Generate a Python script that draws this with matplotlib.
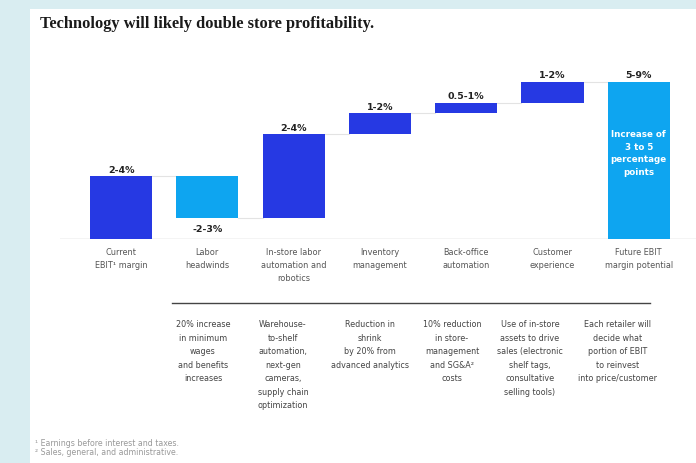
import numpy as np
import matplotlib
matplotlib.use("Agg")
import matplotlib.pyplot as plt
from matplotlib.patches import Rectangle
from matplotlib.lines import Line2D

# waterfall steps (percentage points of EBIT margin, midpoint of each range)
categories = ["Current\nEBIT\u00b9 margin", "Labor\nheadwinds", "In-store labor\nautomation and\nrobotics",
              "Inventory\nmanagement", "Back-office\nautomation", "Customer\nexperience",
              "Future EBIT\nmargin potential"]
steps = [3.0, -2.0, 4.0, 1.0, 0.5, 1.0]
value_labels = ["2-4%", "-2-3%", "2-4%", "1-2%", "0.5-1%", "1-2%", "5-9%"]
drivers = ["20% increase\nin minimum\nwages\nand benefits\nincreases",
           "Warehouse-\nto-shelf\nautomation,\nnext-gen\ncameras,\nsupply chain\noptimization",
           "Reduction in\nshrink\nby 20% from\nadvanced analytics",
           "10% reduction\nin store-\nmanagement\nand SG&A\u00b2\ncosts",
           "Use of in-store\nassets to drive\nsales (electronic\nshelf tags,\nconsultative\nselling tools)",
           "Each retailer will\ndecide what\nportion of EBIT\nto reinvest\ninto price/customer"]
driver_x = [203, 283, 370, 452, 530, 618]
footnotes = ["\u00b9 Earnings before interest and taxes.", "\u00b2 Sales, general, and administrative."]

DARK = "#2639e3"
LIGHT = "#0ea5f0"
W, H = 696, 464

fig = plt.figure(figsize=(W / 100, H / 100), dpi=100)
fig.patch.set_facecolor("#d9edf1")
# white panel
fig.patches.append(Rectangle((30 / W, 0), 1, 1 - 10 / H, transform=fig.transFigure,
                             facecolor="white", edgecolor="none", zorder=-1))

def fx(px):
    return px / W

def fy(py):
    return 1 - py / H

# axes: baseline at y=240px, 21px per point
ax = fig.add_axes([fx(60), fy(240), fx(696) - fx(60), (240 - 51) / H])
ax.set_zorder(2)
ax.set_xlim(-0.707, 6.663)
ax.set_ylim(0, 9)
ax.axis("off")

total = sum(steps)
bottoms, heights, colors = [], [], []
level = 0.0
for i, s in enumerate(steps):
    if i == 0:
        bottoms.append(0.0); heights.append(s); colors.append(DARK)
    elif s < 0:
        bottoms.append(level + s); heights.append(-s); colors.append(LIGHT)
    else:
        bottoms.append(level); heights.append(s); colors.append(DARK)
    level += s
bottoms.append(0.0); heights.append(total); colors.append(LIGHT)

x = np.arange(len(categories))
bw = 0.72
ax.bar(x, heights, bw, bottom=bottoms, color=colors, zorder=3)

# connectors between bars
level = 0.0
for i, s in enumerate(steps):
    level += s
    ax.plot([x[i] + bw / 2, x[i + 1] - bw / 2], [level, level], color="#e3e3e3", lw=0.8, zorder=1)
ax.axhline(0, color="#c8c8c8", lw=1.0, zorder=2)

# value labels
for i, lab in enumerate(value_labels):
    if i < len(steps) and steps[i] < 0:
        ax.annotate(lab, (x[i], bottoms[i]), xytext=(0, -7.5), textcoords="offset points",
                    ha="center", va="center", fontsize=6.8, fontweight="bold", color="#222222")
    else:
        ax.annotate(lab, (x[i], bottoms[i] + heights[i]), xytext=(0, 5), textcoords="offset points",
                    ha="center", va="center", fontsize=6.8, fontweight="bold", color="#222222")

ax.text(x[-1], total - 71 / 21, "Increase of\n3 to 5\npercentage\npoints", ha="center", va="center",
        fontsize=6.3, fontweight="bold", color="white", linespacing=1.55, zorder=4)

# category labels under the baseline
for i, c in enumerate(categories):
    ax.text(x[i], -8 / 21, c, ha="center", va="top", fontsize=5.9, color="#555555",
            linespacing=1.6, clip_on=False)

# divider and driver descriptions
fig.add_artist(Line2D([fx(172), fx(650)], [fy(304), fy(304)], color="#444444", lw=1.0))
for dx, d in zip(driver_x, drivers):
    fig.text(fx(dx), fy(320), d, ha="center", va="top", fontsize=5.8, color="#444444",
             linespacing=1.65)

fig.text(fx(40), fy(24), "Technology will likely double store profitability.", ha="left", va="center",
         fontsize=11.8, fontweight="bold", family="Liberation Serif", color="#1a1a1a")

for k, f in enumerate(footnotes):
    fig.text(fx(35), fy(444 + 8.5 * k), f, ha="left", va="center", fontsize=5.7, color="#999999")

fig.savefig("out.png", dpi=100, facecolor=fig.get_facecolor())
